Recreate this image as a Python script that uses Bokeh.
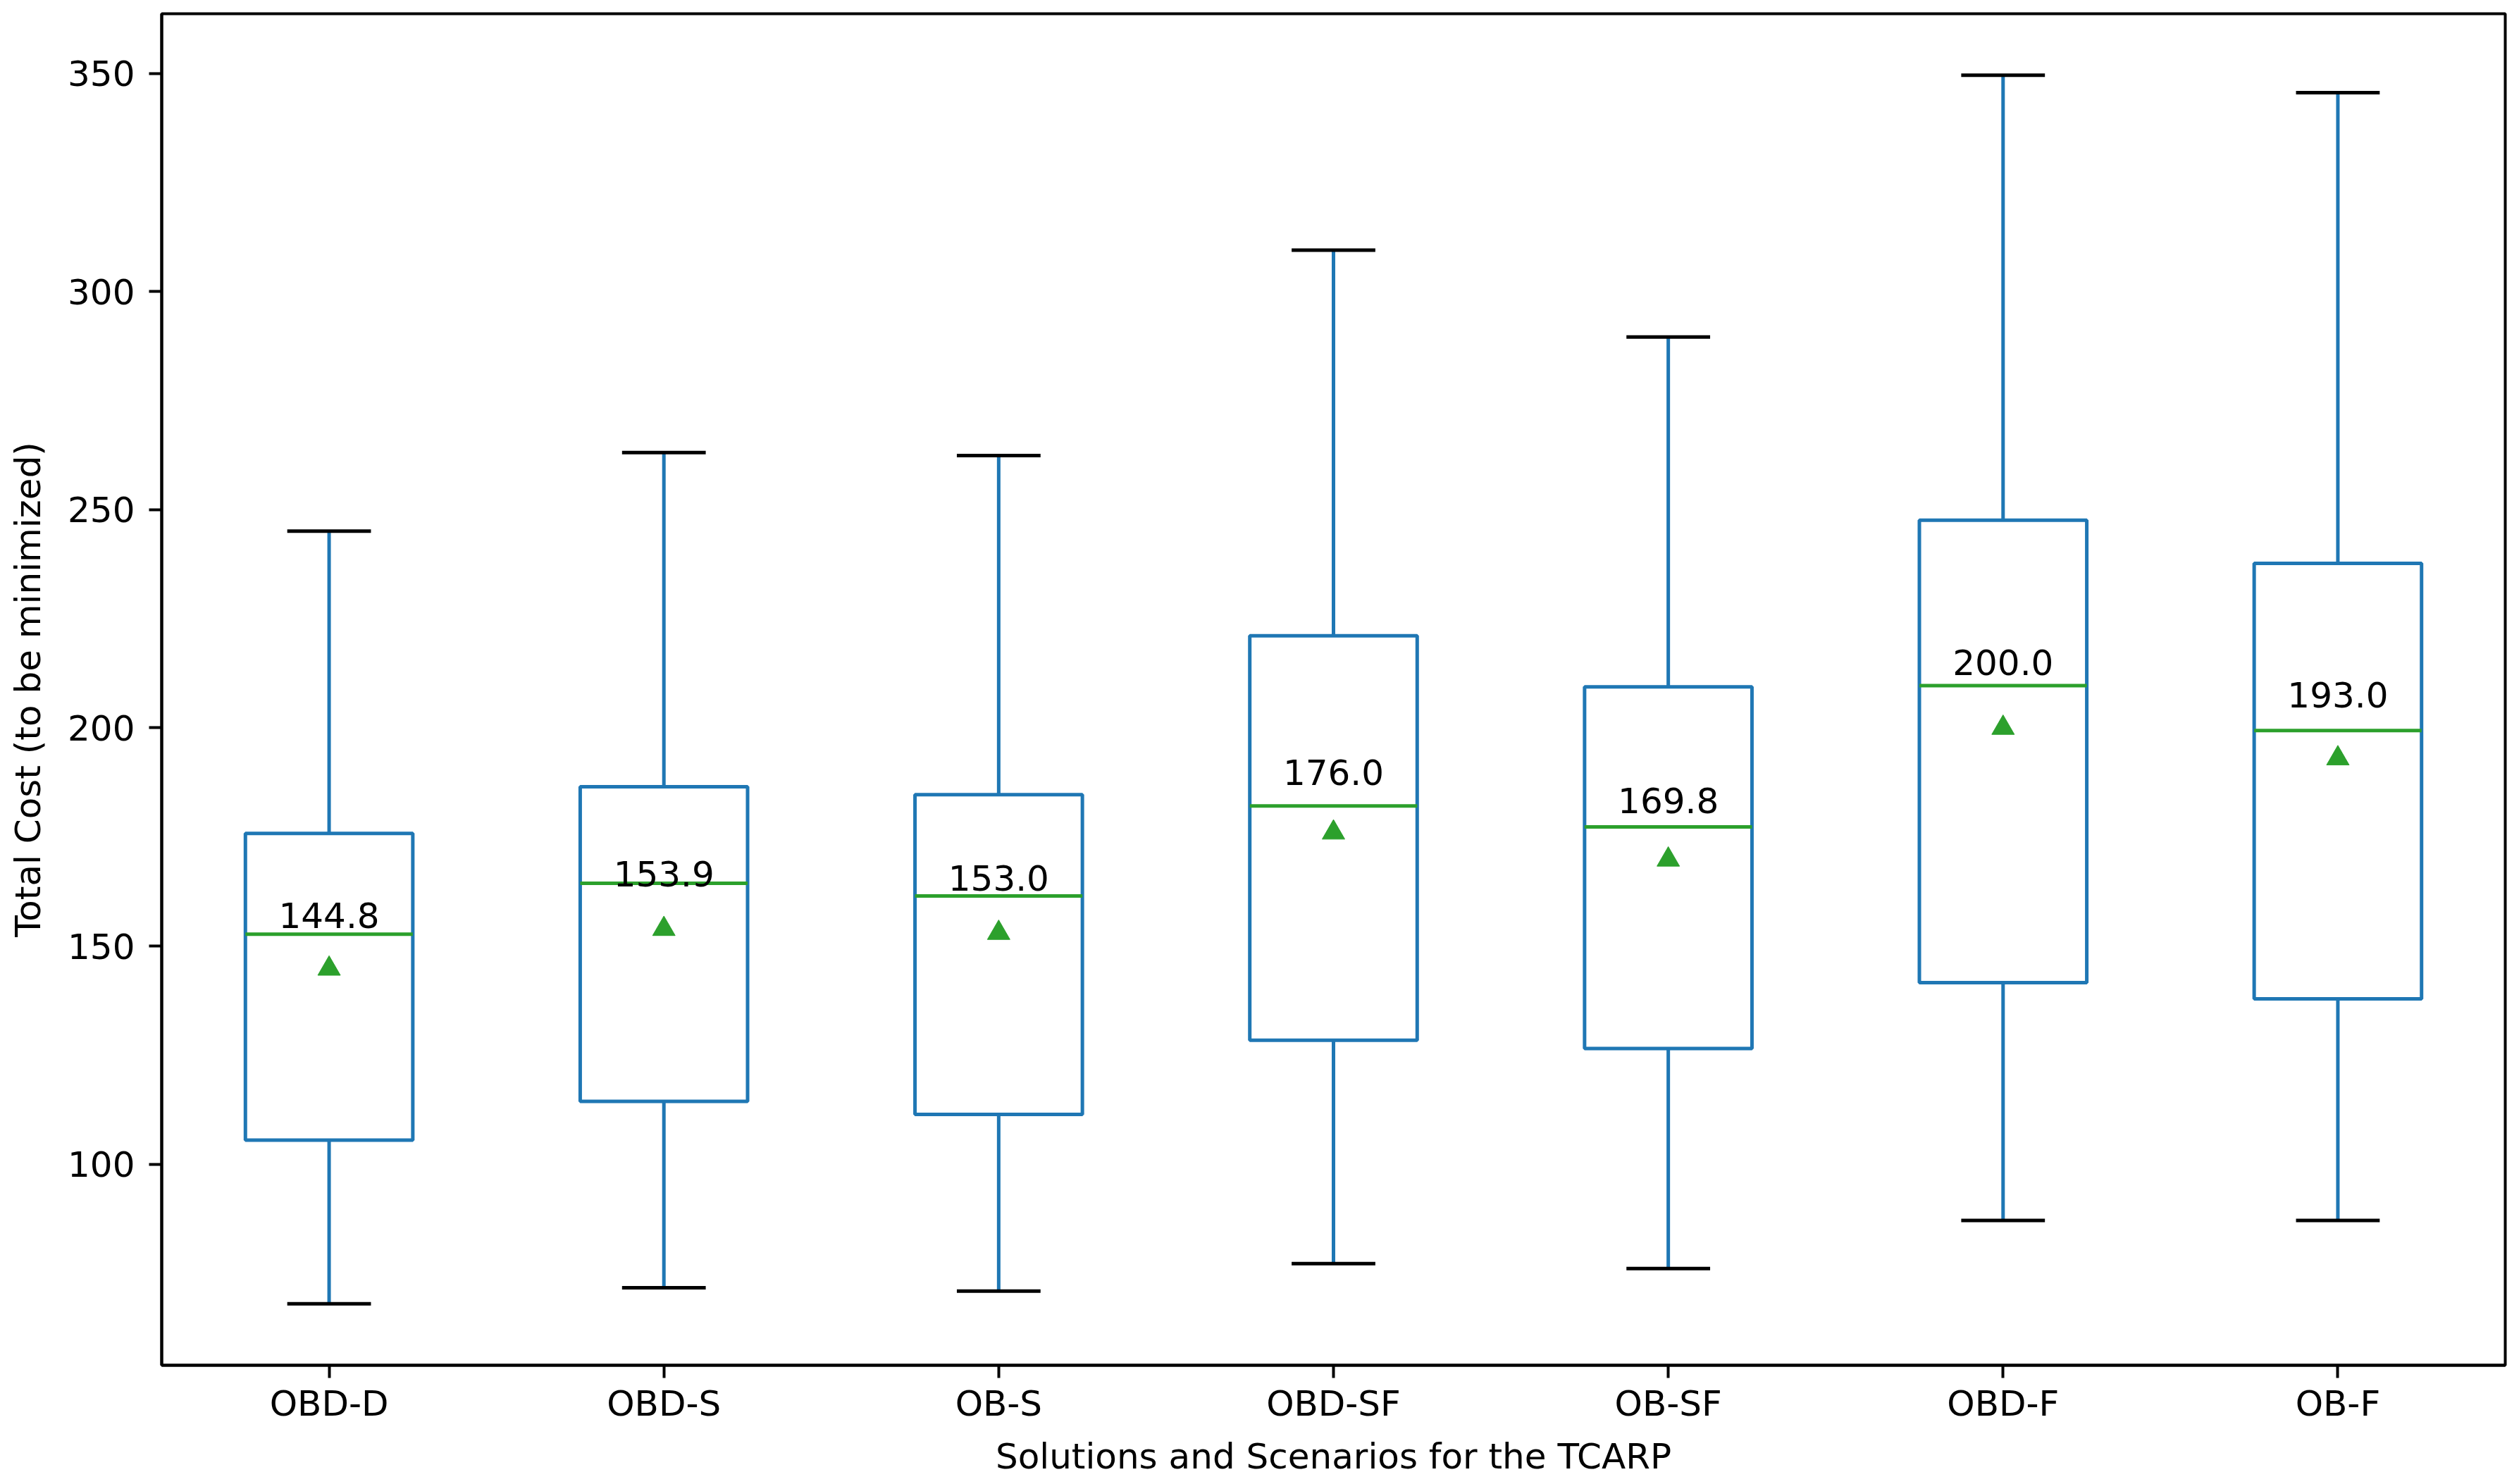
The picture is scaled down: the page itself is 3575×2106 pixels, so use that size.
import numpy as np
from bokeh.plotting import figure
from bokeh.models import ColumnDataSource, FixedTicker, Range1d
from bokeh.core.properties import value
from bokeh.embed import file_html
from bokeh.resources import INLINE

# ---- data ----
categories = ["OBD-D", "OBD-S", "OB-S", "OBD-SF", "OB-SF", "OBD-F", "OB-F"]
whisker_low = [68.0, 71.7, 70.9, 77.2, 76.1, 87.1, 87.1]
q1 = [105.5, 114.4, 111.4, 128.4, 126.5, 141.6, 137.9]
median = [152.7, 164.4, 161.5, 182.1, 177.3, 209.7, 199.4]
q3 = [175.8, 186.5, 184.7, 221.1, 209.4, 247.6, 237.7]
whisker_high = [245.1, 263.1, 262.4, 309.5, 289.6, 349.6, 345.6]
means = [144.8, 153.9, 153.0, 176.0, 169.8, 200.0, 193.0]
y_ticks = [100, 150, 200, 250, 300, 350]

# ---- styles ----
BLUE = "#1f77b4"
GREEN = "#2ca02c"
FONT = "DejaVu Sans"
FS = "50px"
BOX_W = 0.5
CAP_W = 0.25

pos = np.arange(1, len(categories) + 1, dtype=float)
span = max(whisker_high) - min(whisker_low)
y_lo = min(whisker_low) - 0.05 * span
y_hi = max(whisker_high) + 0.05 * span

src = ColumnDataSource(dict(
    x=pos,
    left=pos - BOX_W / 2, right=pos + BOX_W / 2,
    cl=pos - CAP_W / 2, cr=pos + CAP_W / 2,
    lo=whisker_low, q1=q1, med=median, q3=q3, hi=whisker_high,
    mean=means,
    label_y=[m * 1.05 for m in means],
    label=[f"{m:.1f}" for m in means],
))

p = figure(width=3567, height=2098, output_backend="svg", toolbar_location=None,
           x_range=Range1d(0.5, len(categories) + 0.5), y_range=Range1d(y_lo, y_hi),
           min_border_left=229, min_border_right=12, min_border_top=19,
           min_border_bottom=161)
p.background_fill_color = "white"
p.border_fill_color = "white"
p.outline_line_color = "black"
p.outline_line_width = 4
p.outline_line_alpha = 1.0
p.xgrid.visible = False
p.ygrid.visible = False

p.xaxis.ticker = FixedTicker(ticks=list(pos))
p.xaxis.major_label_overrides = {int(i): c for i, c in zip(pos, categories)}
p.yaxis.ticker = FixedTicker(ticks=y_ticks)
p.xaxis.axis_label = "Solutions and Scenarios for the TCARP"
p.yaxis.axis_label = "Total Cost (to be minimized)"

for ax in p.axis:
    ax.axis_line_width = 4
    ax.axis_line_color = "black"
    ax.major_tick_line_width = 4
    ax.major_tick_line_color = "black"
    ax.major_tick_out = 18
    ax.major_tick_in = 0
    ax.minor_tick_out = 0
    ax.minor_tick_in = 0
    ax.major_label_text_font = FONT
    ax.major_label_text_font_size = FS
    ax.major_label_text_color = "black"
    ax.axis_label_text_font = FONT
    ax.axis_label_text_font_size = FS
    ax.axis_label_text_font_style = "normal"
    ax.axis_label_text_color = "black"

p.xaxis.major_label_standoff = 7
p.xaxis.axis_label_standoff = 14
p.yaxis.major_label_standoff = 20
p.yaxis.axis_label_standoff = 24

# boxes
p.quad(left="left", right="right", bottom="q1", top="q3", source=src,
       fill_alpha=0, line_color=BLUE, line_width=5)
# whiskers
p.segment(x0="x", y0="q3", x1="x", y1="hi", source=src, line_color=BLUE, line_width=5)
p.segment(x0="x", y0="q1", x1="x", y1="lo", source=src, line_color=BLUE, line_width=5)
# caps
p.segment(x0="cl", y0="hi", x1="cr", y1="hi", source=src, line_color="black", line_width=5)
p.segment(x0="cl", y0="lo", x1="cr", y1="lo", source=src, line_color="black", line_width=5)
# medians
p.segment(x0="left", y0="med", x1="right", y1="med", source=src, line_color=GREEN, line_width=5)
# means
p.scatter(x="x", y="mean", source=src, marker="triangle", size=32,
          fill_color=GREEN, line_color=GREEN, line_width=1)
# mean labels
p.text(x="x", y="label_y", text="label", source=src, text_align="center",
       text_baseline="bottom", y_offset=-13, text_font=value(FONT), text_font_size=FS,
       text_color="black")

open("out.html", "w").write(file_html(p, INLINE))
